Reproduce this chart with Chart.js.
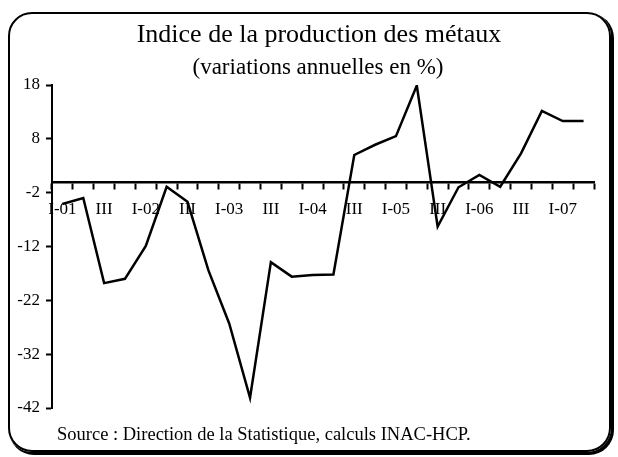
<!DOCTYPE html>
<html>
<head>
<meta charset="utf-8">
<script src="https://cdn.jsdelivr.net/npm/chart.js@4"></script>
<style>
  html, body { margin: 0; padding: 0; background: #fff; }
  #wrap { position: relative; width: 618px; height: 457px; overflow: hidden; font-family: 'Liberation Serif', 'Times New Roman', serif; color: #000; }
  #frame { position: absolute; left: 8px; top: 12px; width: 599px; height: 436px; border: 2px solid #000; border-radius: 24px; box-shadow: 2px 2px 0 1px #000; }
  #c { position: absolute; left: 0; top: 0; }
  .txt { position: absolute; white-space: nowrap; }
  #title { left: 0; width: 638px; text-align: center; top: 21px; font-size: 26px; line-height: 26px; }
  #subtitle { left: 0; width: 636px; text-align: center; top: 55px; font-size: 23px; line-height: 23px; }
  #source { left: 57px; top: 425px; font-size: 18.5px; line-height: 19px; }
</style>
</head>
<body>
<div id="wrap">
  <div id="frame"></div>
  <canvas id="c" width="618" height="457"></canvas>
  <div class="txt" id="title">Indice de la production des métaux</div>
  <div class="txt" id="subtitle">(variations annuelles en %)</div>
  <div class="txt" id="source">Source : Direction de la Statistique, calculs INAC-HCP.</div>
</div>
<script>
// Quarters from 2001 Q1 to 2007 Q2
const categories = [
  'I-01','II-01','III-01','IV-01',
  'I-02','II-02','III-02','IV-02',
  'I-03','II-03','III-03','IV-03',
  'I-04','II-04','III-04','IV-04',
  'I-05','II-05','III-05','IV-05',
  'I-06','II-06','III-06','IV-06',
  'I-07','II-07'
];
const tickLabels = [
  'I-01','','III','',
  'I-02','','III','',
  'I-03','','III','',
  'I-04','','III','',
  'I-05','','III','',
  'I-06','','III','',
  'I-07',''
];
const values = [
  -4.1, -3.0, -18.8, -18.0,
  -11.9, -0.9, -3.7, -16.4,
  -26.3, -40.1, -14.9, -17.6,
  -17.3, -17.2, 5.0, 6.9,
  8.5, 17.9, -8.3, -1.0,
  1.3, -0.9, 5.3, 13.2,
  11.3, 11.3
];
const yTicks = [-42, -32, -22, -12, -2, 8, 18];

const FONT = "'Liberation Serif', 'Times New Roman', serif";

new Chart(document.getElementById('c'), {
  type: 'line',
  data: {
    labels: categories,
    datasets: [{
      data: values,
      borderColor: '#000',
      borderWidth: 2.5,
      pointRadius: 0,
      pointHoverRadius: 0,
      tension: 0,
      fill: false
    }]
  },
  options: {
    responsive: false,
    animation: false,
    devicePixelRatio: 1,
    layout: { padding: { left: 0, right: 24, top: 85, bottom: 49 } },
    plugins: { legend: { display: false }, tooltip: { enabled: false }, title: { display: false } },
    scales: {
      x: {
        type: 'category',
        position: { y: 0 },
        offset: true,
        grid: { offset: true, drawOnChartArea: false, drawTicks: true, tickLength: 6, tickColor: '#000', tickWidth: 2 },
        border: { display: true, color: '#000', width: 2.5 },
        ticks: {
          autoSkip: false,
          maxRotation: 0,
          minRotation: 0,
          padding: 11,
          color: '#000',
          font: { family: FONT, size: 17 },
          callback: (v, i) => tickLabels[i]
        }
      },
      y: {
        min: -42,
        max: 18,
        afterFit: (s) => { s.width = 52; },
        afterBuildTicks: (s) => { s.ticks = yTicks.map(v => ({ value: v })); },
        grid: { drawOnChartArea: false, drawTicks: true, tickLength: 6, tickColor: '#000', tickWidth: 2 },
        border: { display: true, color: '#000', width: 2 },
        ticks: {
          padding: 6,
          color: '#000',
          font: { family: FONT, size: 17 },
          callback: (v) => String(v)
        }
      }
    }
  }
});
</script>
</body>
</html>
